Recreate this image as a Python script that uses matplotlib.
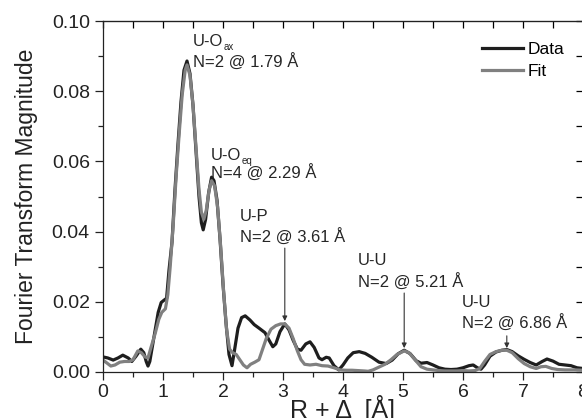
import matplotlib
matplotlib.use("Agg")
import matplotlib.pyplot as plt
from matplotlib.ticker import MultipleLocator

plt.rcParams["font.family"] = ["Liberation Sans", "DejaVu Sans"]

# --- data: R + delta (A) vs |FT| ---
r_data = [0.00, 0.08, 0.17, 0.25, 0.33, 0.42, 0.48, 0.55, 0.63, 0.68, 0.72, 0.75,
          0.78, 0.82, 0.87, 0.92, 0.97, 1.02, 1.06, 1.10, 1.15, 1.20, 1.25, 1.30,
          1.35, 1.40, 1.45, 1.50, 1.55, 1.60, 1.64, 1.67, 1.71, 1.76, 1.81, 1.85,
          1.90, 1.95, 2.00, 2.05, 2.10, 2.15, 2.19, 2.25, 2.31, 2.37, 2.45, 2.52,
          2.60, 2.70, 2.77, 2.83, 2.88, 2.95, 3.03, 3.10, 3.17, 3.24, 3.30, 3.38,
          3.45, 3.52, 3.60, 3.65, 3.72, 3.77, 3.85, 3.93, 4.00, 4.08, 4.17, 4.27,
          4.37, 4.48, 4.60, 4.72, 4.82, 4.92, 5.02, 5.12, 5.22, 5.30, 5.40, 5.50,
          5.60, 5.70, 5.80, 5.90, 6.00, 6.10, 6.17, 6.24, 6.30, 6.36, 6.45, 6.55,
          6.65, 6.73, 6.82, 6.92, 7.02, 7.12, 7.22, 7.32, 7.40, 7.50, 7.60, 7.70,
          7.80, 7.90, 8.00]
ft_data = [0.0043, 0.0040, 0.0034, 0.0040, 0.0048, 0.0040, 0.0030, 0.0045, 0.0065,
           0.0055, 0.0030, 0.0017, 0.0030, 0.0070, 0.0120, 0.0170, 0.0198, 0.0205,
           0.0210, 0.0290, 0.0370, 0.0520, 0.0650, 0.0770, 0.0860, 0.0886, 0.0850,
           0.0760, 0.0630, 0.0500, 0.0425, 0.0405, 0.0435, 0.0510, 0.0555, 0.0545,
           0.0490, 0.0380, 0.0250, 0.0140, 0.0050, 0.0018, 0.0060, 0.0125, 0.0155,
           0.0160, 0.0148, 0.0135, 0.0125, 0.0112, 0.0090, 0.0072, 0.0080, 0.0115,
           0.0137, 0.0120, 0.0090, 0.0065, 0.0062, 0.0080, 0.0086, 0.0070, 0.0040,
           0.0035, 0.0042, 0.0040, 0.0018, 0.0006, 0.0020, 0.0040, 0.0055, 0.0058,
           0.0053, 0.0042, 0.0028, 0.0024, 0.0034, 0.0052, 0.0062, 0.0052, 0.0032,
           0.0025, 0.0027, 0.0020, 0.0012, 0.0008, 0.0007, 0.0008, 0.0012, 0.0018,
           0.0020, 0.0012, 0.0008, 0.0020, 0.0045, 0.0057, 0.0062, 0.0064, 0.0058,
           0.0046, 0.0036, 0.0027, 0.0020, 0.0030, 0.0037, 0.0031, 0.0022, 0.0020,
           0.0018, 0.0012, 0.0010]

r_fit = [0.00, 0.07, 0.13, 0.20, 0.28, 0.36, 0.44, 0.50, 0.58, 0.64, 0.70, 0.75,
         0.80, 0.87, 0.93, 0.98, 1.04, 1.08, 1.12, 1.17, 1.22, 1.27, 1.32, 1.37,
         1.40, 1.45, 1.50, 1.55, 1.60, 1.64, 1.68, 1.72, 1.77, 1.81, 1.86, 1.91,
         1.96, 2.01, 2.06, 2.11, 2.16, 2.22, 2.28, 2.34, 2.40, 2.46, 2.53, 2.60,
         2.66, 2.72, 2.80, 2.88, 2.96, 3.03, 3.10, 3.17, 3.24, 3.30, 3.36, 3.45,
         3.55, 3.65, 3.75, 3.85, 3.95, 4.05, 4.15, 4.25, 4.35, 4.42, 4.50, 4.60,
         4.70, 4.80, 4.90, 5.02, 5.10, 5.20, 5.30, 5.40, 5.50, 5.60, 5.70, 5.80,
         5.90, 6.00, 6.10, 6.20, 6.28, 6.36, 6.45, 6.55, 6.65, 6.73, 6.82, 6.92,
         7.02, 7.12, 7.22, 7.30, 7.38, 7.48, 7.58, 7.70, 7.85, 8.00]
ft_fit = [0.0034, 0.0025, 0.0017, 0.0020, 0.0028, 0.0030, 0.0030, 0.0035, 0.0060,
          0.0055, 0.0043, 0.0040, 0.0070, 0.0110, 0.0150, 0.0170, 0.0180, 0.0220,
          0.0300, 0.0420, 0.0560, 0.0680, 0.0790, 0.0860, 0.0875, 0.0845, 0.0760,
          0.0640, 0.0520, 0.0455, 0.0435, 0.0460, 0.0520, 0.0545, 0.0530, 0.0470,
          0.0360, 0.0230, 0.0120, 0.0065, 0.0055, 0.0050, 0.0035, 0.0020, 0.0012,
          0.0022, 0.0028, 0.0035, 0.0065, 0.0095, 0.0122, 0.0132, 0.0137, 0.0137,
          0.0125, 0.0095, 0.0060, 0.0035, 0.0022, 0.0020, 0.0022, 0.0018, 0.0017,
          0.0012, 0.0006, 0.0005, 0.0005, 0.0004, 0.0003, 0.0002, 0.0006, 0.0014,
          0.0022, 0.0035, 0.0050, 0.0060, 0.0055, 0.0035, 0.0015, 0.0008, 0.0006,
          0.0004, 0.0003, 0.0003, 0.0003, 0.0004, 0.0003, 0.0004, 0.0010, 0.0030,
          0.0050, 0.0058, 0.0062, 0.0062, 0.0055, 0.0038, 0.0024, 0.0015, 0.0010,
          0.0015, 0.0016, 0.0010, 0.0007, 0.0006, 0.0006, 0.0005]

# shell labels: (x, y line1, y line2, shell, subscript, N/distance)
shell_labels = [
    (1.50, 0.0943, 0.0883, "U-O", "ax", "N=2 @ 1.79 Å"),
    (1.80, 0.0618, 0.0567, "U-O", "eq", "N=4 @ 2.29 Å"),
    (2.28, 0.0442, 0.0385, "U-P", "", "N=2 @ 3.61 Å"),
    (4.25, 0.0319, 0.0256, "U-U", "", "N=2 @ 5.21 Å"),
    (5.98, 0.0199, 0.0140, "U-U", "", "N=2 @ 6.86 Å"),
]
# arrows: (x, y start, y tip)
arrows = [(3.03, 0.0353, 0.0145), (5.02, 0.0225, 0.0068), (6.73, 0.0103, 0.0068)]

W, H = 582, 418
fig = plt.figure(figsize=(W / 100, H / 100), dpi=100)
ax = fig.add_axes([103 / W, (H - 372) / H, 480 / W, 351 / H])

ax.plot(r_data, ft_data, color="#1e1e1e", lw=2.3, label="Data", solid_joinstyle="round")
ax.plot(r_fit, ft_fit, color="#808080", lw=2.3, label="Fit", solid_joinstyle="round")

txt_col = "#262626"
for x, y1, y2, shell, sub, dist in shell_labels:
    t = ax.text(x, y1, shell, fontsize=12, va="center", ha="left", color=txt_col)
    if sub:
        # small subscript just after the shell name, at its baseline
        ax.annotate(sub, xy=(1, 0), xycoords=t, xytext=(0.5, 1),
                    textcoords="offset points", fontsize=7, va="center",
                    ha="left", color=txt_col)
    ax.text(x, y2, dist, fontsize=12, va="center", ha="left", color=txt_col)

for x, y0, y1 in arrows:
    ax.annotate("", xy=(x, y1), xytext=(x, y0),
                arrowprops=dict(arrowstyle="-|>", color="#333333", lw=0.8,
                                mutation_scale=7, shrinkA=0, shrinkB=0))

ax.set_xlim(0, 8)
ax.set_ylim(0, 0.10)
ax.xaxis.set_major_locator(MultipleLocator(1))
ax.xaxis.set_minor_locator(MultipleLocator(0.5))
ax.yaxis.set_major_locator(MultipleLocator(0.02))
ax.yaxis.set_minor_locator(MultipleLocator(0.01))
ax.yaxis.set_major_formatter(plt.FuncFormatter(lambda v, p: f"{v:.2f}"))

ax.tick_params(which="both", direction="out", labelsize=14, width=0.9, colors="#222222")
ax.tick_params(which="major", length=6)
ax.tick_params(which="minor", length=3.5)
ax.tick_params(axis="x", which="major", pad=2.5)
for s in ax.spines.values():
    s.set_linewidth(0.9)
    s.set_color("#222222")

# mirrored ticks on top / right pointing inward
axt = ax.secondary_xaxis("top")
axt.xaxis.set_major_locator(MultipleLocator(1))
axt.xaxis.set_minor_locator(MultipleLocator(0.5))
axt.tick_params(which="both", direction="in", labeltop=False, width=0.9, length=5)
axr = ax.secondary_yaxis("right")
axr.yaxis.set_major_locator(MultipleLocator(0.02))
axr.yaxis.set_minor_locator(MultipleLocator(0.01))
axr.tick_params(which="both", direction="in", labelright=False, width=0.9, length=5)

ax.set_xlabel("R + Δ  [Å]", fontsize=18, labelpad=-4, color="#222222")
ax.set_ylabel("Fourier Transform Magnitude", fontsize=16.5, labelpad=10, color="#222222")

ax.legend(loc="upper left", bbox_to_anchor=((482 - 103) / 480, (372 - 42) / 351),
          frameon=False, fontsize=12.5, handlelength=2.35, handletextpad=0.3,
          borderpad=0, borderaxespad=0, labelspacing=0.37)

fig.savefig("out.png", dpi=100)
